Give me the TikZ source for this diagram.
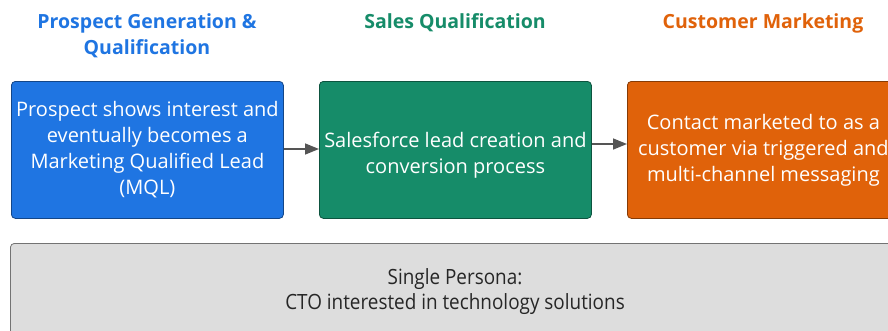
\documentclass[tikz,border=0pt]{standalone}
\usepackage{fontspec}
\setmainfont{Open Sans}
\usetikzlibrary{arrows.meta}
\definecolor{cblue}{HTML}{1F75E2}
\definecolor{cgreen}{HTML}{168C69}
\definecolor{corange}{HTML}{E0620A}
\definecolor{cgray}{HTML}{DDDDDD}
\definecolor{carrow}{HTML}{555555}
\tikzset{
  x=1pt, y=-1pt,
  stagebox/.style={draw=#1!60!black, fill=#1, rounded corners=4pt, line width=0.8pt,
    minimum width=272pt, minimum height=137pt, anchor=north west,
    text=white, align=center, font=\fontsize{20}{26}\selectfont, inner sep=0pt},
  boxtext/.style={text=white, align=center, font=\fontsize{20}{26}\selectfont, inner sep=0pt},
  title/.style={text=#1, font=\fontsize{19.5}{26}\selectfont\bfseries, align=center},
  flow/.style={draw=carrow, line width=1.5pt, -{Triangle[length=14pt,width=11pt]}},
}
\begin{document}
\begin{tikzpicture}
\useasboundingbox (0,0) rectangle (888,330);
\clip (0,0) rectangle (888,330);
\fill[white] (0,0) rectangle (888,330);
\node[title=cblue] (t1) at (147,36) {Prospect Generation \&\\Qualification};
\node[title=cgreen] (t2) at (455,23) {Sales Qualification};
\node[title=corange] (t3) at (763,23) {Customer Marketing};
\node[stagebox=cblue] (b1) at (11,81) {Prospect shows interest and\\eventually becomes a\\Marketing Qualified Lead\\(MQL)};
\node[stagebox=cgreen] (b2) at (319,81) {};
\node[boxtext] (b2t) at ([yshift=-5pt]b2.center) {Salesforce lead creation and\\conversion process};
\node[stagebox=corange] (b3) at (627,81) {Contact marketed to as a\\customer via triggered and\\multi-channel messaging};
\node[draw=black!55, fill=cgray, rounded corners=4pt, line width=0.8pt, anchor=north west,
  minimum width=892pt, minimum height=120pt, inner sep=0pt] (p) at (10,243) {};
\node[font=\fontsize{21}{25}\selectfont, align=center, text=black!85] (pt) at (455,292)
  {\scalebox{0.9}[1]{Single Persona:}\\\scalebox{0.9}[1]{CTO interested in technology solutions}};
\draw[flow] (b1.east |- 0,149) -- (b2.west |- 0,149);
\draw[flow] (b2.east |- 0,144) -- (b3.west |- 0,144);
\end{tikzpicture}
\end{document}
